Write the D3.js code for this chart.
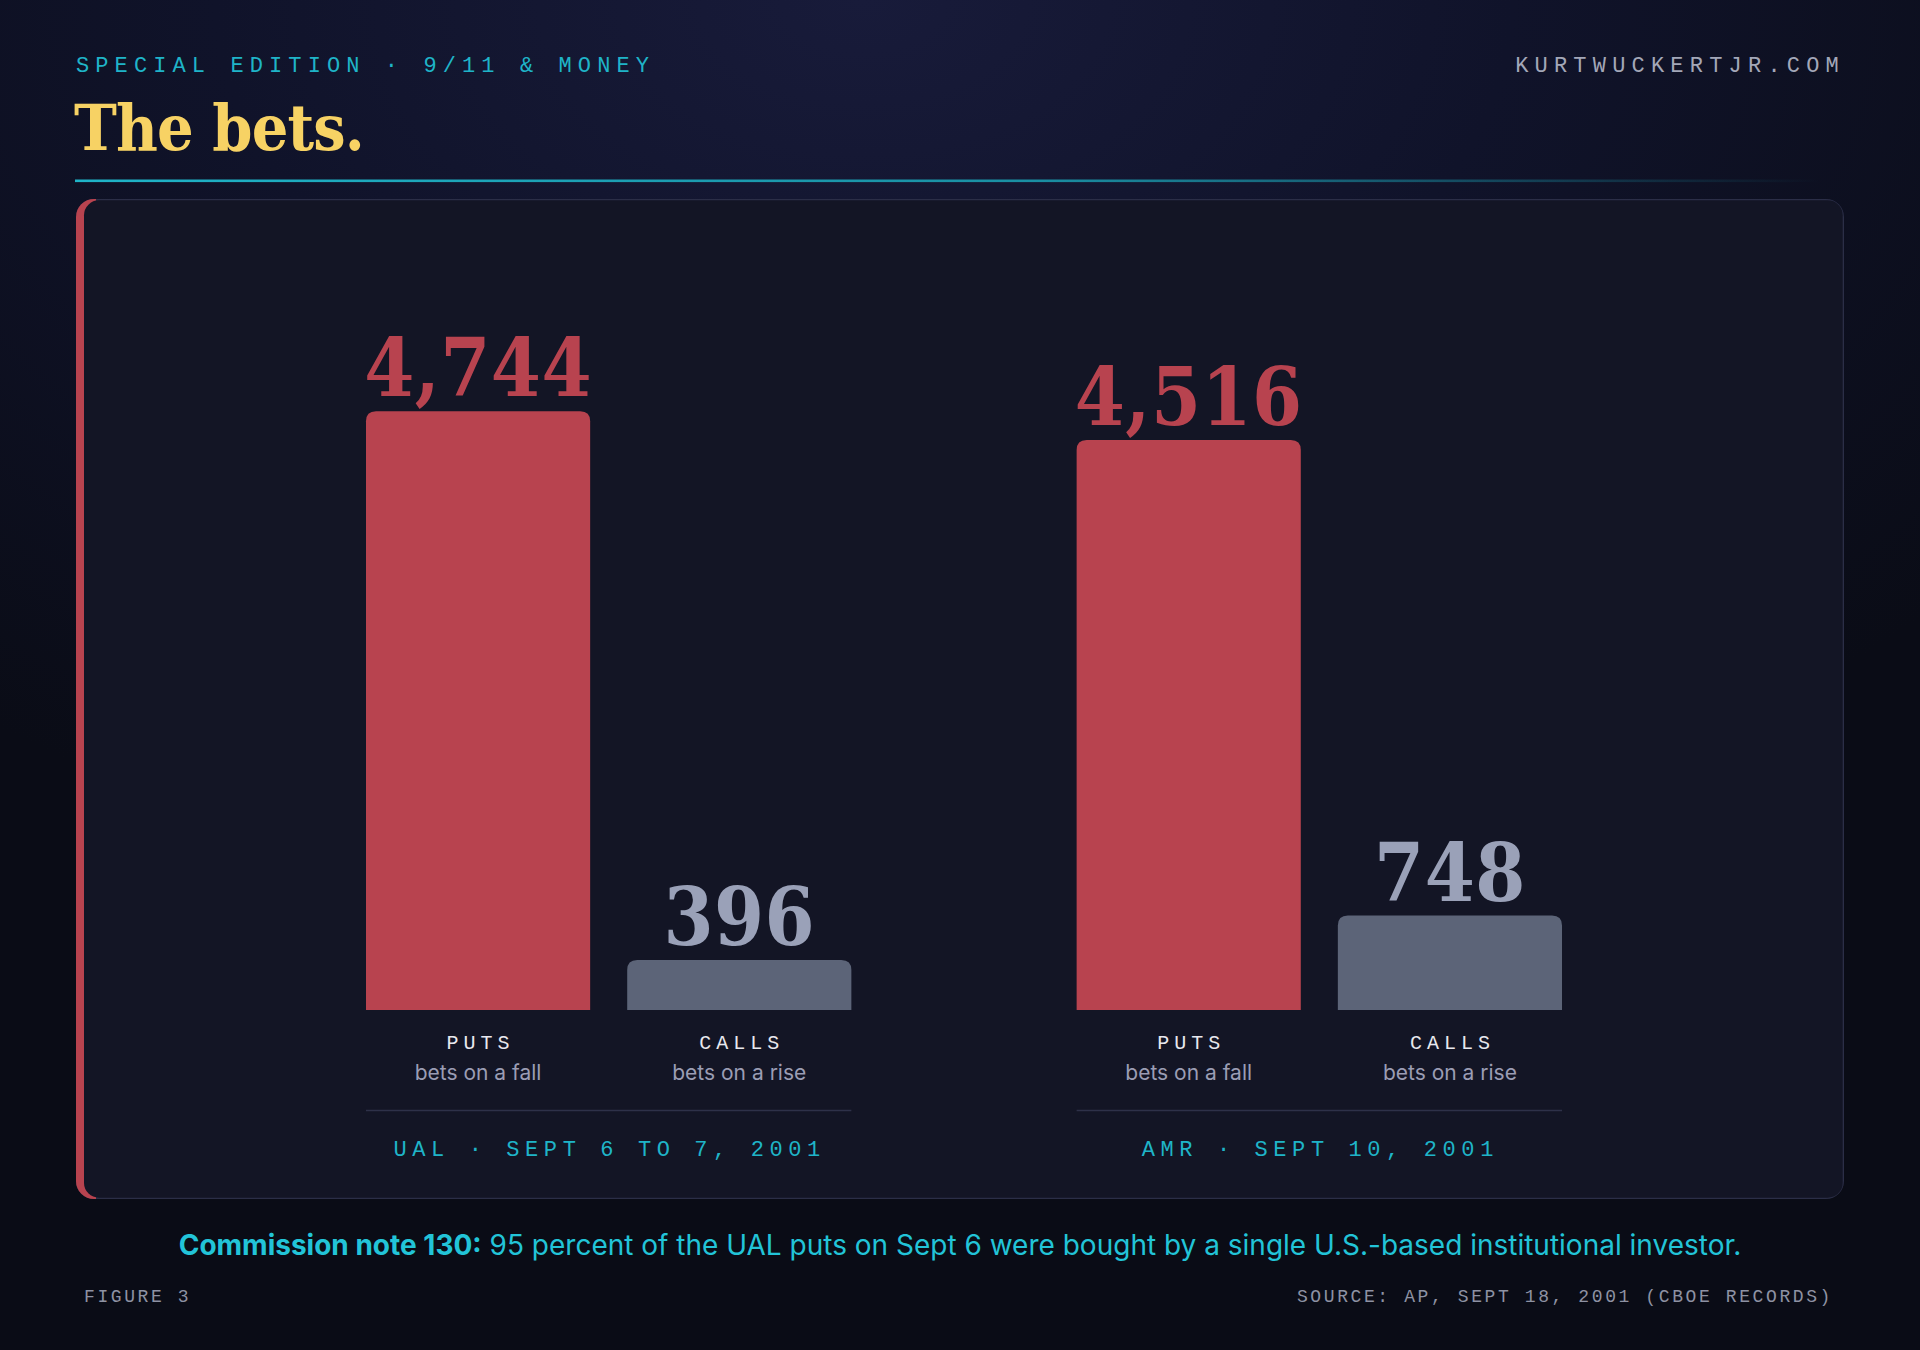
<!DOCTYPE html>
<html>
<head>
<meta charset="utf-8">
<script src="https://cdn.jsdelivr.net/npm/d3@7"></script>
<style>
  html, body { margin: 0; padding: 0; background: #0b0d18; }
  svg { display: block; }
</style>
</head>
<body>
<svg id="chart" width="1920" height="1350"></svg>
<script>
// ---- data ----
const groups = ["UAL", "AMR"];
const groupLabels = ["UAL · SEPT 6 TO 7, 2001", "AMR · SEPT 10, 2001"];
const optionTypes = ["PUTS", "CALLS"];
const optionSubs = ["bets on a fall", "bets on a rise"];
const putsValues = [4744, 4516];
const callsValues = [396, 748];
const yMax = 5000;

const eyebrow = "SPECIAL EDITION · 9/11 & MONEY";
const site = "KURTWUCKERTJR.COM";
const title = "The bets.";
const noteBold = "Commission note 130:";
const noteRest = " 95 percent of the UAL puts on Sept 6 were bought by a single U.S.-based institutional investor.";
const figureLabel = "FIGURE 3";
const sourceLabel = "SOURCE: AP, SEPT 18, 2001 (CBOE RECORDS)";

const rows = [];
groups.forEach((g, i) => {
  rows.push({ group: g, type: "PUTS", value: putsValues[i] });
  rows.push({ group: g, type: "CALLS", value: callsValues[i] });
});

const C = {
  teal: "#1fb4c8", tealBright: "#22c4d8", yellow: "#f7d264", red: "#b8434f",
  gray: "#5c6478", grayText: "#9aa1b8", white: "#e8e8ee", sub: "#9b9db4",
  panel: "#131525", border: "#2b2e47", muted: "#8e92a3", site: "#a3a7b8"
};
const MONO = "'Liberation Mono', 'Courier New', monospace";
const SERIF = "'DejaVu Serif Condensed', 'DejaVu Serif', serif";
const SANS = "Inter, 'Noto Sans', sans-serif";

const svg = d3.select("#chart");
const defs = svg.append("defs");

// background
const bg = defs.append("radialGradient").attr("id", "bgGlow")
  .attr("cx", 0.45).attr("cy", 0).attr("r", 0.75)
  .attr("gradientTransform", "translate(0.45,0) scale(1,0.9) translate(-0.45,0)");
bg.append("stop").attr("offset", "0%").attr("stop-color", "#181b3a");
bg.append("stop").attr("offset", "45%").attr("stop-color", "#10132a");
bg.append("stop").attr("offset", "100%").attr("stop-color", "#0a0c16");
svg.append("rect").attr("width", 1920).attr("height", 1350).attr("fill", "#0a0c16");
svg.append("rect").attr("width", 1920).attr("height", 1350).attr("fill", "url(#bgGlow)");

// header
svg.append("text").attr("x", 76).attr("y", 72)
  .attr("font-family", MONO).attr("font-size", 22).attr("letter-spacing", 6.1)
  .attr("fill", C.teal).text(eyebrow);
svg.append("text").attr("x", 1845).attr("y", 72).attr("text-anchor", "end")
  .attr("font-family", MONO).attr("font-size", 22).attr("letter-spacing", 6.2)
  .attr("fill", C.site).text(site);
svg.append("text").attr("x", 74).attr("y", 150)
  .attr("font-family", SERIF).attr("font-stretch", "condensed").attr("font-weight", 700)
  .attr("font-size", 64).attr("letter-spacing", -0.8).attr("fill", C.yellow).text(title);

const rule = defs.append("linearGradient").attr("id", "ruleGrad").attr("x1", 0).attr("x2", 1);
rule.append("stop").attr("offset", "0%").attr("stop-color", "#1fb4c8");
rule.append("stop").attr("offset", "55%").attr("stop-color", "#1a8fa3");
rule.append("stop").attr("offset", "100%").attr("stop-color", "#1a8fa3").attr("stop-opacity", 0);
svg.append("rect").attr("x", 75).attr("y", 179.5).attr("width", 1745).attr("height", 2.6)
  .attr("fill", "url(#ruleGrad)");

// panel
const P = { x: 76, y: 199, w: 1768, h: 1000, r: 18 };
defs.append("clipPath").attr("id", "panelClip").append("rect")
  .attr("x", P.x).attr("y", P.y).attr("width", P.w).attr("height", P.h).attr("rx", P.r);
const pg = svg.append("g").attr("clip-path", "url(#panelClip)");
pg.append("rect").attr("x", P.x).attr("y", P.y).attr("width", P.w).attr("height", P.h).attr("fill", C.border);
pg.append("rect").attr("x", P.x).attr("y", P.y).attr("width", 20).attr("height", P.h).attr("fill", C.red);
pg.append("rect").attr("x", P.x + 8).attr("y", P.y + 1.3).attr("width", P.w - 9.3).attr("height", P.h - 2.6)
  .attr("rx", 15).attr("fill", C.panel);

// scales
const x0 = d3.scaleBand().domain(groups).range([366, 1562]).paddingInner(0.317).paddingOuter(0);
const x1 = d3.scaleBand().domain(optionTypes).range([0, x0.bandwidth()]).paddingInner(0.1418).paddingOuter(0);
const y = d3.scaleLinear().domain([0, yMax]).range([1010, 379]);

function topRounded(x, yTop, w, yBase, r) {
  const rr = Math.min(r, (yBase - yTop), w / 2);
  return `M${x},${yBase}V${yTop + rr}Q${x},${yTop} ${x + rr},${yTop}H${x + w - rr}Q${x + w},${yTop} ${x + w},${yTop + rr}V${yBase}Z`;
}

const g = svg.append("g");
const bars = g.selectAll("g.bar").data(rows).join("g").attr("class", "bar");
bars.append("path")
  .attr("d", d => topRounded(x0(d.group) + x1(d.type), y(d.value), x1.bandwidth(), y(0), 10))
  .attr("fill", d => d.type === "PUTS" ? C.red : C.gray);
bars.append("text")
  .attr("x", d => x0(d.group) + x1(d.type) + x1.bandwidth() / 2)
  .attr("y", d => y(d.value) - 15)
  .attr("text-anchor", "middle")
  .attr("font-family", SERIF).attr("font-stretch", "condensed").attr("font-weight", 700)
  .attr("font-size", 80).attr("letter-spacing", 0.5)
  .attr("fill", d => d.type === "PUTS" ? C.red : C.grayText)
  .text(d => d3.format(",")(d.value));
bars.append("text")
  .attr("x", d => x0(d.group) + x1(d.type) + x1.bandwidth() / 2 + 2.5)
  .attr("y", 1049)
  .attr("text-anchor", "middle")
  .attr("font-family", MONO).attr("font-size", 20).attr("letter-spacing", 5)
  .attr("fill", C.white).text(d => d.type);
bars.append("text")
  .attr("x", d => x0(d.group) + x1(d.type) + x1.bandwidth() / 2)
  .attr("y", 1080)
  .attr("text-anchor", "middle")
  .attr("font-family", SANS).attr("font-size", 21)
  .attr("fill", C.sub).text(d => optionSubs[optionTypes.indexOf(d.type)]);

const gl = g.selectAll("g.grp").data(groups).join("g").attr("class", "grp");
gl.append("line")
  .attr("x1", d => x0(d)).attr("x2", d => x0(d) + x0.bandwidth())
  .attr("y1", 1110.5).attr("y2", 1110.5).attr("stroke", "#2e3149").attr("stroke-width", 1.5);
gl.append("text")
  .attr("x", d => x0(d) + x0.bandwidth() / 2 + 1)
  .attr("y", 1156)
  .attr("text-anchor", "middle")
  .attr("font-family", MONO).attr("font-size", 22).attr("letter-spacing", 5.6)
  .attr("fill", C.teal).text((d, i) => groupLabels[i]);

// footnote
const note = svg.append("text").attr("x", 960).attr("y", 1255).attr("text-anchor", "middle")
  .attr("font-family", SANS).attr("font-size", 28).attr("fill", C.tealBright);
note.append("tspan").attr("font-weight", 700).text(noteBold);
note.append("tspan").attr("font-weight", 400).text(noteRest);

svg.append("text").attr("x", 84).attr("y", 1302)
  .attr("font-family", MONO).attr("font-size", 18).attr("letter-spacing", 2.6)
  .attr("fill", C.muted).text(figureLabel);
svg.append("text").attr("x", 1833).attr("y", 1302).attr("text-anchor", "end")
  .attr("font-family", MONO).attr("font-size", 18).attr("letter-spacing", 2.6)
  .attr("fill", C.muted).text(sourceLabel);
</script>
</body>
</html>
